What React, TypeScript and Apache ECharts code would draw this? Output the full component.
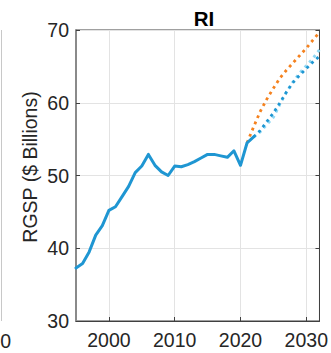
import React, { useEffect, useRef } from "react";
import * as echarts from "echarts";

const histYears = [1995, 1996, 1997, 1998, 1999, 2000, 2001, 2002, 2003, 2004, 2005, 2006, 2007, 2008, 2009, 2010, 2011, 2012, 2013, 2014, 2015, 2016, 2017, 2018, 2019, 2020, 2021, 2022];
const histValues = [37.3, 37.9, 39.5, 41.8, 43.1, 45.2, 45.7, 47.1, 48.5, 50.4, 51.3, 52.9, 51.4, 50.5, 50.0, 51.3, 51.2, 51.5, 51.9, 52.4, 52.9, 52.9, 52.7, 52.5, 53.4, 51.4, 54.5, 55.3];

const orangeYears = [2021, 2022, 2023, 2024, 2025, 2026, 2027, 2028, 2029, 2030, 2031, 2032];
const orangeValues = [54.5, 56.7, 58.8, 60.5, 62.0, 63.4, 64.5, 65.5, 66.5, 67.5, 68.6, 69.7];

const fcYears = [2022, 2023, 2024, 2025, 2026, 2027, 2028, 2029, 2030, 2031, 2032];
const darkBlueValues = [55.3, 56.2, 57.4, 58.6, 60.0, 61.5, 62.8, 63.8, 64.7, 65.6, 66.4];
const lightBlueValues = [55.3, 56.0, 57.0, 58.0, 59.8, 61.5, 62.9, 64.1, 65.1, 66.1, 67.3];

const xTicks = [2000, 2010, 2020, 2030];

const title = "RI";
const yName = "RGSP ($ Billions)";

const pairs = (xs: number[], ys: number[]) => xs.map((x, i) => [x, ys[i]]);

const FONT = "Liberation Sans, Arial, Helvetica, sans-serif";
const BLUE = "#1f96d2";
const ORANGE = "#f5821f";
const LIGHT = "#8fd8f4";
const TICK_FS = 19.5;

export default function App() {
  const ref = useRef<HTMLDivElement>(null);
  useEffect(() => {
    if (!ref.current) return;
    const chart = echarts.init(ref.current, undefined, { renderer: "svg" });
    const dotted = (color: string) => ({
      color,
      width: 2.8,
      type: [2.8, 3.9] as any,
      cap: "butt" as const,
    });
    chart.setOption({
      animation: false,
      title: {
        text: title,
        left: 199,
        textAlign: "center",
        top: 3,
        textStyle: { fontFamily: FONT, fontSize: 20.5, fontWeight: "bold", color: "#000" },
      },
      grid: {
        left: 76,
        right: 9,
        top: 30,
        bottom: 32,
        show: true,
        borderColor: "#404040",
        borderWidth: 1,
        backgroundColor: "transparent",
      },
      xAxis: {
        type: "value",
        min: 1995,
        max: 2032,
        axisLine: { show: true, lineStyle: { color: "#404040", width: 1 } },
        axisTick: { show: true, inside: true, length: 4, lineStyle: { color: "#404040" }, customValues: xTicks },
        axisLabel: {
          customValues: xTicks,
          fontFamily: FONT,
          fontSize: TICK_FS,
          color: "#262626",
          margin: 9,
          formatter: (v: number) => String(v),
        },
        splitLine: { show: true, lineStyle: { color: "#e3e3e3", width: 1 } },
      },
      yAxis: [
        {
          type: "value",
          min: 30,
          max: 70,
          interval: 10,
          axisLine: { show: true, lineStyle: { color: "#8a8a8a", width: 2 } },
          axisTick: { show: true, inside: true, length: 4, lineStyle: { color: "#404040" } },
          axisLabel: { fontFamily: FONT, fontSize: TICK_FS, color: "#262626", margin: 7 },
          splitLine: { show: true, lineStyle: { color: "#e3e3e3", width: 1 } },
        },
        {
          type: "value",
          min: 30,
          max: 70,
          interval: 10,
          position: "right",
          axisLine: { show: true, lineStyle: { color: "#404040", width: 1 } },
          axisTick: { show: true, inside: true, length: 4, lineStyle: { color: "#404040" } },
          axisLabel: { show: false },
          splitLine: { show: false },
        },
      ],
      series: [
        {
          type: "line",
          data: pairs(orangeYears, orangeValues),
          showSymbol: false,
          lineStyle: dotted(ORANGE),
          z: 2,
        },
        {
          type: "line",
          data: pairs(fcYears, lightBlueValues),
          showSymbol: false,
          lineStyle: dotted(LIGHT),
          z: 3,
        },
        {
          type: "line",
          data: pairs(fcYears, darkBlueValues),
          showSymbol: false,
          lineStyle: dotted(BLUE),
          z: 4,
        },
        {
          type: "line",
          data: pairs(histYears, histValues),
          showSymbol: false,
          lineStyle: { color: BLUE, width: 3, cap: "round", join: "round" },
          z: 5,
        },
      ],
      graphic: [
        {
          type: "text",
          x: 30,
          y: 167,
          rotation: Math.PI / 2,
          style: {
            text: yName,
            font: `${TICK_FS}px ${FONT}`,
            fill: "#262626",
            textAlign: "center",
            textVerticalAlign: "middle",
          },
          silent: true,
        },
        {
          type: "line",
          shape: { x1: 1.5, y1: 30, x2: 1.5, y2: 321 },
          style: { stroke: "#c8c8c8", lineWidth: 1 },
          silent: true,
        },
        {
          type: "text",
          x: 11,
          y: 341,
          style: { text: "0", font: `${TICK_FS}px ${FONT}`, fill: "#262626", textAlign: "right", textVerticalAlign: "middle" },
          silent: true,
        },
      ],
    });
    return () => chart.dispose();
  }, []);
  return <div ref={ref} style={{ width: 331, height: 353, position: "absolute", left: 0, top: 0 }} />;
}
